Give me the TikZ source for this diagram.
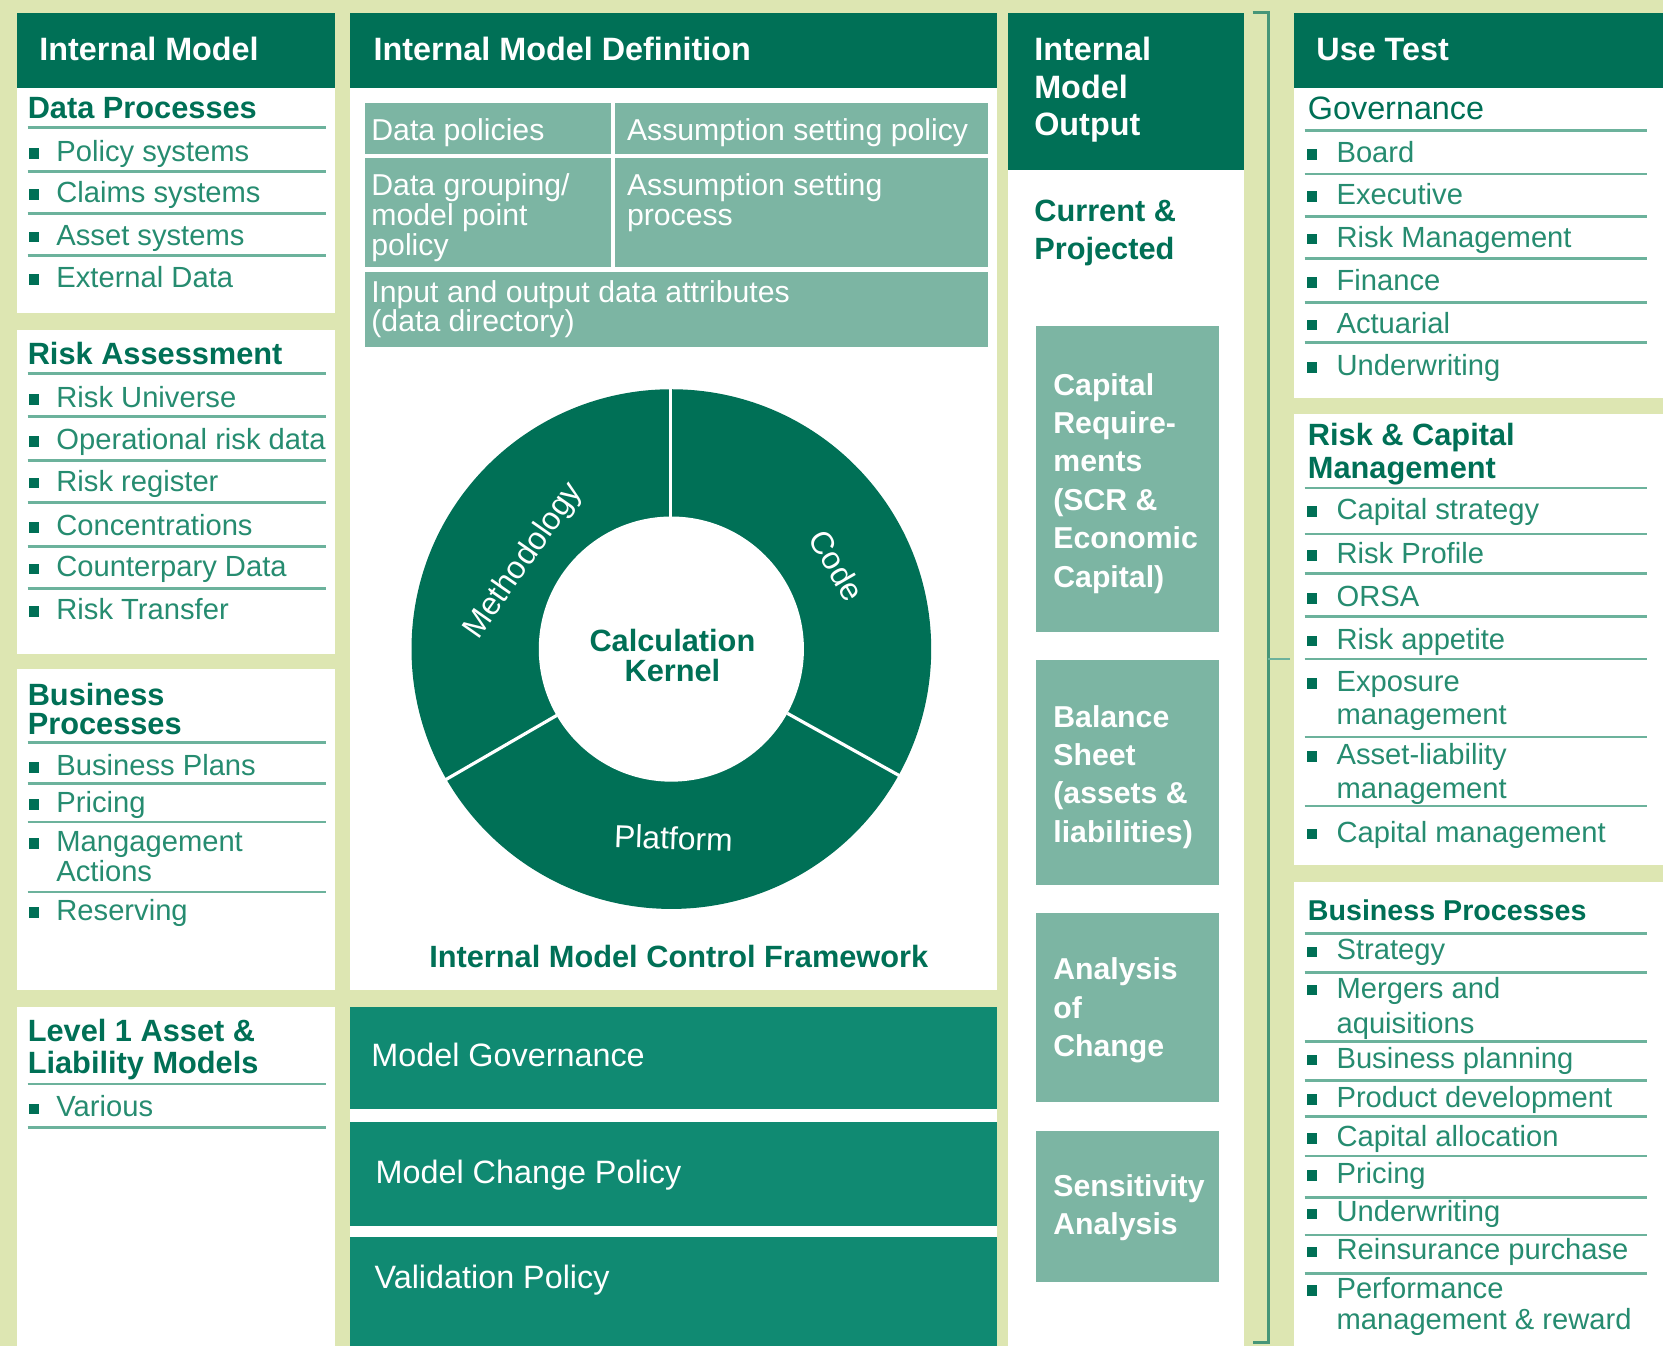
\documentclass[tikz,border=0pt]{standalone}
\usepackage{fontspec}
\setmainfont{Liberation Sans}
\definecolor{bgl}{RGB}{221,230,178}
\definecolor{dg}{RGB}{0,112,86}
\definecolor{tg}{RGB}{38,140,112}
\definecolor{sepc}{RGB}{108,178,156}
\definecolor{mb}{RGB}{124,181,163}
\definecolor{cb}{RGB}{16,138,114}
\definecolor{brk}{RGB}{70,150,120}
\tikzset{
 itm/.style={inner sep=0pt, anchor=base west, text=tg, font=\fontsize{27.5}{30}\selectfont},
 ttl/.style={inner sep=0pt, anchor=base west, text=dg, font=\fontsize{29}{31}\selectfont\bfseries},
 ttlr/.style={inner sep=0pt, anchor=base west, text=dg, font=\fontsize{30.5}{32}\selectfont},
 hdr/.style={inner sep=0pt, anchor=base west, text=white, font=\fontsize{30.5}{33}\selectfont\bfseries},
 tbl/.style={inner sep=0pt, anchor=base west, text=white, font=\fontsize{28.5}{30}\selectfont},
 obx/.style={inner sep=0pt, anchor=base west, text=white, font=\fontsize{28.5}{30}\selectfont\bfseries},
 cbx/.style={inner sep=0pt, anchor=base west, text=white, font=\fontsize{30.5}{32}\selectfont},
 ringlbl/.style={inner sep=0pt, text=white, font=\fontsize{30}{32}\selectfont},
 kern/.style={inner sep=0pt, anchor=base, text=dg, font=\fontsize{29}{31}\selectfont\bfseries},
 bulsq/.style={fill=dg, inner sep=0pt, minimum size=10pt, draw=none},
 sepl/.style={draw=sepc, line width=2.5pt},
}
\newcommand\lbul[3]{\node[bulsq] (#1b) at (32,#2-7.5) {};\node[itm] (#1) at (53,#2) {#3};}
\newcommand\rbul[3]{\node[bulsq] (#1b) at (1237,#2-7.5) {};\node[itm] (#1) at (1260,#2) {#3};}
\newcommand\lsep[1]{\draw[sepl] (26,#1) -- (307,#1);}
\newcommand\rsep[1]{\draw[sepl] (1230,#1) -- (1553,#1);}
\begin{document}
\begin{tikzpicture}[x=1pt,y=-1pt]
\useasboundingbox (0,0) rectangle (1568,1269);
\fill[bgl] (0,0) rectangle (1568,1269);

% ---------- Column 1 ----------
\fill[dg] (16,12) rectangle (316,83);
\node[hdr] (h1) at (37,57.5) {Internal Model};
\fill[white] (16,83) rectangle (316,295);
\fill[white] (16,311) rectangle (316,617);
\fill[white] (16,631) rectangle (316,933);
\fill[white] (16,949) rectangle (316,1269);

\node[ttl] (dpt) at (26,112) {Data Processes};
\lsep{120}
\lbul{dp1}{152}{Policy systems}
\lsep{162}
\lbul{dp2}{191}{Claims systems}
\lsep{201}
\lbul{dp3}{231}{Asset systems}
\lsep{241}
\lbul{dp4}{271}{External Data}

\node[ttl] (rat) at (26,344) {Risk Assessment};
\lsep{352}
\lbul{ra1}{384}{Risk Universe}
\lsep{393}
\lbul{ra2}{424}{Operational risk data}
\lsep{434}
\lbul{ra3}{463}{Risk register}
\lsep{474}
\lbul{ra4}{505}{Concentrations}
\lsep{515}
\lbul{ra5}{544}{Counterpary Data}
\lsep{555}
\lbul{ra6}{584}{Risk Transfer}

\node[ttl] (bpt1) at (26,665) {Business};
\node[ttl] (bpt2) at (26,693) {Processes};
\lsep{700}
\lbul{bp1}{731}{Business Plans}
\lsep{739}
\lbul{bp2}{766}{Pricing}
\lsep{775}
\lbul{bp3}{803}{Mangagement}
\node[itm] (bp3b2) at (53,831.5) {Actions};
\lsep{841}
\lbul{bp4}{868}{Reserving}

\node[ttl] (l1t1) at (26,982) {Level 1 Asset \&};
\node[ttl] (l1t2) at (26,1012) {Liability Models};
\lsep{1022}
\lbul{l11}{1053}{Various}
\lsep{1063}

% ---------- Column 2 ----------
\fill[dg] (330,12) rectangle (940,83);
\node[hdr] (h2) at (352,57.5) {Internal Model Definition};
\fill[white] (330,83) rectangle (940,933);
\fill[mb] (344,97) rectangle (576,145);
\fill[mb] (580,97) rectangle (932,145);
\fill[mb] (344,149) rectangle (576,252);
\fill[mb] (580,149) rectangle (932,252);
\fill[mb] (344,256) rectangle (932,327);
\node[tbl] (t1) at (350,132) {Data policies};
\node[tbl] (t2) at (591,132) {Assumption setting policy};
\node[tbl] (t3a) at (350,184) {Data grouping/};
\node[tbl] (t3b) at (350,213) {model point};
\node[tbl] (t3c) at (350,241) {policy};
\node[tbl] (t4a) at (591,184) {Assumption setting};
\node[tbl] (t4b) at (591,213) {process};
\node[tbl] (t5a) at (350,285) {Input and output data attributes};
\node[tbl] (t5b) at (350,313) {(data directory)};

% donut
\fill[dg] (633,612) circle[radius=245];
\fill[white] (633,612) circle[radius=125];
\draw[white, line width=3pt] (632,490) -- (632,364);
\draw[white, line width=3pt] (742.4,672.6) -- (851,733);
\draw[white, line width=3pt] (525,674.5) -- (417,737);
\node[ringlbl, rotate=55] (meth) at (494,529) {Methodology};
\node[ringlbl, rotate=-60] (code) at (789,533) {Code};
\node[ringlbl, rotate=-2] (plat) at (635,790) {Platform};
\node[kern] (calc1) at (634,614) {Calculation};
\node[kern] (calc2) at (634,643) {Kernel};
\node[kern] (imcf) at (640,912) {Internal Model Control Framework};

\fill[white] (330,949) rectangle (940,1269);
\fill[cb] (330,949) rectangle (940,1046);
\fill[cb] (330,1058) rectangle (940,1156);
\fill[cb] (330,1166) rectangle (940,1269);
\node[cbx] (mg) at (350,1006) {Model Governance};
\node[cbx] (mc) at (354,1115.5) {Model Change Policy};
\node[cbx] (vp) at (353,1214.5) {Validation Policy};

% ---------- Column 3 ----------
\fill[dg] (950,12) rectangle (1173,160);
\node[hdr] (h3a) at (975,57.5) {Internal};
\node[hdr] (h3b) at (975,92.5) {Model};
\node[hdr] (h3c) at (975,127.5) {Output};
\fill[white] (950,160) rectangle (1173,1269);
\node[ttl] (cp1) at (975,209) {Current \&};
\node[ttl] (cp2) at (975,245) {Projected};
\fill[mb] (977,307) rectangle (1149,596);
\fill[mb] (977,622) rectangle (1149,834);
\fill[mb] (977,861) rectangle (1149,1039);
\fill[mb] (977,1066) rectangle (1149,1209);
\node[obx] (o1a) at (993,373) {Capital};
\node[obx] (o1b) at (993,409) {Require-};
\node[obx] (o1c) at (993,445) {ments};
\node[obx] (o1d) at (993,481) {(SCR \&};
\node[obx] (o1e) at (993,517.5) {Economic};
\node[obx] (o1f) at (993,553.5) {Capital)};
\node[obx] (o2a) at (993,686) {Balance};
\node[obx] (o2b) at (993,722) {Sheet};
\node[obx] (o2c) at (993,758) {(assets \&};
\node[obx] (o2d) at (993,794) {liabilities)};
\node[obx] (o3a) at (993,924) {Analysis};
\node[obx] (o3b) at (993,960) {of};
\node[obx] (o3c) at (993,996) {Change};
\node[obx] (o4a) at (993,1128) {Sensitivity};
\node[obx] (o4b) at (993,1164) {Analysis};

% bracket
\coordinate (bk1) at (1181,12);
\coordinate (bk2) at (1196,12);
\coordinate (bk3) at (1196,1266);
\coordinate (bk4) at (1181,1266);
\coordinate (bkm) at (1196,621);
\coordinate (bkt) at (1216,621);
\draw[brk, line width=2.5pt] (bk1) -- (bk2) -- (bk3) -- (bk4);
\draw[sepc, line width=2pt] (bkm) -- (bkt);

% ---------- Column 4 ----------
\fill[dg] (1220,12) rectangle (1568,83);
\node[hdr] (h4) at (1241,57.5) {Use Test};
\fill[white] (1220,83) rectangle (1568,375);
\fill[white] (1220,390) rectangle (1568,816);
\fill[white] (1220,832) rectangle (1568,1269);

\node[ttlr] (gvt) at (1233,113) {Governance};
\rsep{123}
\rbul{gv1}{153}{Board}
\rsep{164}
\rbul{gv2}{193}{Executive}
\rsep{204}
\rbul{gv3}{233}{Risk Management}
\rsep{244}
\rbul{gv4}{274}{Finance}
\rsep{285}
\rbul{gv5}{314}{Actuarial}
\rsep{323}
\rbul{gv6}{354}{Underwriting}

\node[ttl] (rct1) at (1233,420) {Risk \& Capital};
\node[ttl] (rct2) at (1233,451.5) {Management};
\rsep{460}
\rbul{rc1}{490}{Capital strategy}
\rsep{503.5}
\rbul{rc2}{531}{Risk Profile}
\rsep{540.5}
\rbul{rc3}{572}{ORSA}
\rsep{581}
\rbul{rc4}{612}{Risk appetite}
\rsep{621.5}
\rbul{rc5}{652}{Exposure}
\node[itm] (rc5b2) at (1260,683) {management};
\rsep{695}
\rbul{rc6}{721}{Asset-liability}
\node[itm] (rc6b2) at (1260,753) {management};
\rsep{760}
\rbul{rc7}{794}{Capital management}

\node[ttl, font=\fontsize{27}{29}\selectfont\bfseries] (bprt) at (1233,868) {Business Processes};
\rsep{880}
\rbul{br1}{905}{Strategy}
\rsep{917}
\rbul{br2}{941}{Mergers and}
\node[itm] (br2b2) at (1260,974) {aquisitions};
\rsep{982}
\rbul{br3}{1007}{Business planning}
\rsep{1019}
\rbul{br4}{1044}{Product development}
\rsep{1053}
\rbul{br5}{1081}{Capital allocation}
\rsep{1090}
\rbul{br6}{1116}{Pricing}
\rsep{1129}
\rbul{br7}{1152}{Underwriting}
\rsep{1164.5}
\rbul{br8}{1188}{Reinsurance purchase}
\rsep{1201}
\rbul{br9}{1224}{Performance}
\node[itm] (br9b2) at (1260,1254) {management \& reward};
\end{tikzpicture}
\end{document}
